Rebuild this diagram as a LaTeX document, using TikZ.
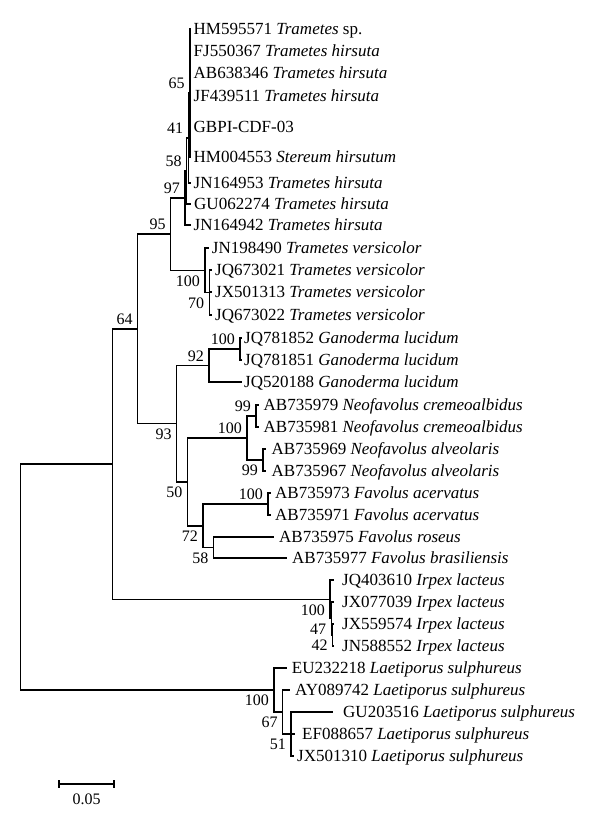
\documentclass[tikz,border=0pt]{standalone}
\usepackage{fontspec}
\setmainfont{Liberation Serif}

\begin{document}
\begin{tikzpicture}[x=1pt,y=-1pt,
    branch/.style={line width=1.5pt},
    taxon/.style={anchor=base west,inner sep=0pt,yshift=-5.6pt,font=\fontsize{17}{20}\selectfont},
    bsup/.style={anchor=south east,inner sep=0pt,xshift=-5pt,yshift=4pt,font=\fontsize{16}{19}\selectfont},
    bsdown/.style={anchor=north east,inner sep=0pt,xshift=-5pt,yshift=-5pt,font=\fontsize{16}{19}\selectfont}]
  \fill[white] (0,0) rectangle (600,837);

  % leaves: name/tip x/label x/y/text
  \foreach \n/\tx/\lx/\ty/\txt in {
      l1/191/193.5/29/{HM595571 \textit{Trametes} sp.},
      l2/191/193.5/51/{FJ550367 \textit{Trametes hirsuta}},
      l3/191/193.5/73/{AB638346 \textit{Trametes hirsuta}},
      l4/191/193.5/96/{JF439511 \textit{Trametes hirsuta}},
      l5/191/193.5/127/{GBPI-CDF-03},
      l6/191/193.5/157/{HM004553 \textit{Stereum hirsutum}},
      l7/191/193.5/183/{JN164953 \textit{Trametes hirsuta}},
      l8/191/194/204/{GU062274 \textit{Trametes hirsuta}},
      l9/191/193.5/225/{JN164942 \textit{Trametes hirsuta}},
      l10/208.5/211.7/248/{JN198490 \textit{Trametes versicolor}},
      l11/212/215/270/{JQ673021 \textit{Trametes versicolor}},
      l12/212/215/292/{JX501313 \textit{Trametes versicolor}},
      l13/212/215/315/{JQ673022 \textit{Trametes versicolor}},
      l14/241.5/244/338/{JQ781852 \textit{Ganoderma lucidum}},
      l15/241.5/244/360/{JQ781851 \textit{Ganoderma lucidum}},
      l16/241.5/244/382/{JQ520188 \textit{Ganoderma lucidum}},
      l17/258.5/263.5/405/{AB735979 \textit{Neofavolus cremeoalbidus}},
      l18/258.5/263.5/427/{AB735981 \textit{Neofavolus cremeoalbidus}},
      l19/266/271.5/449/{AB735969 \textit{Neofavolus alveolaris}},
      l20/266/271.5/471/{AB735967 \textit{Neofavolus alveolaris}},
      l21/270.5/275/493/{AB735973 \textit{Favolus acervatus}},
      l22/270.5/275/515/{AB735971 \textit{Favolus acervatus}},
      l23/273.5/279/537/{AB735975 \textit{Favolus roseus}},
      l24/287/292/558/{AB735977 \textit{Favolus brasiliensis}},
      l25/333.5/342/580/{JQ403610 \textit{Irpex lacteus}},
      l26/333.5/342/602/{JX077039 \textit{Irpex lacteus}},
      l27/333.5/342/624/{JX559574 \textit{Irpex lacteus}},
      l28/333.5/342/646/{JN588552 \textit{Irpex lacteus}},
      l29/287/291.7/668/{EU232218 \textit{Laetiporus sulphureus}},
      l30/290/295/690/{AY089742 \textit{Laetiporus sulphureus}},
      l31/333/343/712/{GU203516 \textit{Laetiporus sulphureus}},
      l32/295/302/734/{EF088657 \textit{Laetiporus sulphureus}},
      l33/294/297/756/{JX501310 \textit{Laetiporus sulphureus}}}
  {
    \coordinate (\n) at (\tx,\ty);
    \node[taxon] (\n-lab) at (\lx,\ty) {\txt};
  }

  % internal nodes
  \foreach \n/\x/\y in {n65/189.8/93, n41/188.3/138, n58a/186.7/171, n97/185/198,
      n70/209.3/292.5, nver/205/270.25, n95/170.7/234.1,
      ngan/240/349, n92/209/365.5, n99a/256/416, n99b/263/460, nneo/247/438,
      nfav/268/504, n58b/213.5/547.5, n72/203/525.75, n50/187.5/481.9,
      n93/176.7/423.7, n64/137.7/328.9,
      n42/332.7/635, n47/331.3/618.5, nirp/330/599.25, nup/112.7/464.1,
      n51/291/734, n67/282.7/712, nlae/274/690, nroot/20.7/577}
    \coordinate (\n) at (\x,\y);

  % branches
  \foreach \p/\c in {nroot/nup, nroot/nlae, nup/n64, nup/nirp,
      n64/n95, n64/n93, n95/n97, n95/nver,
      n97/n58a, n97/l9, n58a/n41, n58a/l8, n41/n65, n41/l7,
      n65/l1, n65/l2, n65/l3, n65/l4, n65/l5, n65/l6,
      nver/l10, nver/n70, n70/l11, n70/l12, n70/l13,
      n93/n92, n93/n50, n92/ngan, n92/l16, ngan/l14, ngan/l15,
      n50/nneo, n50/n72, nneo/n99a, nneo/n99b,
      n99a/l17, n99a/l18, n99b/l19, n99b/l20,
      n72/nfav, n72/n58b, nfav/l21, nfav/l22, n58b/l23, n58b/l24,
      nirp/l25, nirp/n47, n47/l26, n47/n42, n42/l27, n42/l28,
      nlae/l29, nlae/n67, n67/l30, n67/n51, n51/l31, n51/l32, n51/l33}
    \draw[branch] (\p) |- (\c);

  % bootstrap values
  \foreach \n/\v in {n65/65, n41/41, n58a/58, n97/97, n95/95, n64/64,
      ngan/100, n92/92, nneo/100, n99a/99, nfav/100}
    \node[bsup] (\n-bs) at (\n) {\v};
  \foreach \n/\v in {nver/100, n70/70, n93/93, n50/50, n99b/99, n72/72,
      n58b/58, nirp/100, n47/47, n42/42, nlae/100, n67/67, n51/51}
    \node[bsdown] (\n-bs) at (\n) {\v};

  % scale bar
  \coordinate (sbl) at (59,784);
  \coordinate (sbr) at (114,784);
  \draw[branch] (sbl) -- (sbr);
  \draw[branch] ([yshift=4pt]sbl) -- ([yshift=-4pt]sbl);
  \draw[branch] ([yshift=4pt]sbr) -- ([yshift=-4pt]sbr);
  \node[anchor=north,inner sep=0pt,font=\fontsize{16}{19}\selectfont] (sblab) at (86.5,794) {0.05};
\end{tikzpicture}
\end{document}
